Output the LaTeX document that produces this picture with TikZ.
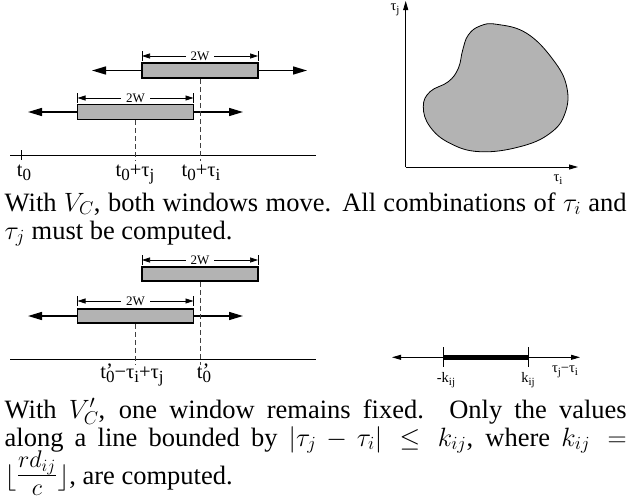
\RequirePackage{fix-cm}
\documentclass[tikz,border=0pt]{standalone}
\usepackage{graphicx}
\usepackage{fontspec}
\setmainfont{Liberation Serif}
\usetikzlibrary{arrows.meta}
\definecolor{winfill}{HTML}{B3B3B3}
\newcommand\lsub[1]{\raisebox{-4.5pt}{\fontsize{17}{17}\selectfont #1}}
\newcommand\ssub[1]{\raisebox{-3.5pt}{\fontsize{11}{11}\selectfont #1}}
\newcommand\tpr{t\rlap{\raisebox{1pt}{’}}\lsub{0}}
\begin{document}
\begin{tikzpicture}[x=1pt,y=-1pt,
  win/.style={draw, line width=1.5pt, fill=winfill, minimum width=116pt, minimum height=15pt, inner sep=0pt},
  mv/.style={line width=1.5pt, -{Triangle[length=14pt,width=8pt]}},
  dimln/.style={line width=0.7pt, {Triangle[length=8pt,width=5pt]}-{Triangle[length=8pt,width=5pt]}},
  dimbar/.style={line width=0.7pt},
  dashln/.style={dash pattern=on 5pt off 3pt, line width=0.8pt, draw=black!75},
  axis/.style={line width=0.8pt},
  thinarr/.style={line width=0.8pt, -{Triangle[length=9pt,width=5pt]}},
  lab/.style={font=\fontsize{20.5}{22}\selectfont, inner sep=0pt, anchor=base},
  slab/.style={font=\fontsize{14.5}{15}\selectfont, inner sep=0pt, anchor=base},
  dimlab/.style={font=\fontsize{13}{13}\selectfont, fill=white, inner xsep=5pt, inner ysep=1pt},
  captxt/.style={font=\fontsize{26.5}{28}\selectfont, inner sep=0pt, anchor=base west}]
\useasboundingbox (0,0) rectangle (631,501);

% ---------- diagram 1 ----------
\node[win] (A1) at (200,70.5) {};
\node[win] (B1) at (135.5,112) {};
\coordinate (A1l) at (92,70.5);  \coordinate (A1r) at (307,70.5);
\coordinate (B1l) at (28,112);   \coordinate (B1r) at (243,112);
\draw[mv] (A1.west) -- (A1l);
\draw[mv] (A1.east) -- (A1r);
\draw[mv] (B1.west) -- (B1l);
\draw[mv] (B1.east) -- (B1r);
\coordinate (A1dl) at (142,56); \coordinate (A1dr) at (258,56);
\draw[dimln] (A1dl) -- node[dimlab] (A1w) {2W} (A1dr);
\draw[dimbar] (142,51) -- (142,61);
\draw[dimbar] (258,51) -- (258,61);
\coordinate (B1dl) at (77.5,98); \coordinate (B1dr) at (193.5,98);
\draw[dimln] (B1dl) -- node[dimlab] (B1w) {2W} (B1dr);
\draw[dimbar] (77.5,93) -- (77.5,103);
\draw[dimbar] (193.5,93) -- (193.5,103);
\coordinate (X1a) at (10,155); \coordinate (X1b) at (316,155);
\draw[axis] (X1a) -- (X1b);
\draw[axis] (21,150) -- (21,160);
\coordinate (A1t) at (200,161); \coordinate (B1t) at (135.5,161);
\draw[dashln] (A1.south) -- (A1t);
\draw[dashln] (B1.south) -- (B1t);
\node[lab] (L1) at (24,176) {t\lsub{0}};
\node[lab] (L2) at (135,176) {t\lsub{0}+τ\lsub{j}};
\node[lab] (L3) at (201,176) {t\lsub{0}+τ\lsub{i}};

% ---------- plot ----------
\coordinate (O) at (405.7,167);
\coordinate (Yt) at (405.7,1);
\coordinate (Xr) at (578,167);
\draw[thinarr] (O) -- (Yt);
\draw[thinarr] (O) -- (Xr);
\node[slab] (tj) at (395,10) {τ\ssub{j}};
\node[slab] (ti) at (558,181) {τ\ssub{i}};
\draw[line width=0.8pt, fill=winfill] plot[smooth cycle, tension=0.7] coordinates {
 (496.7,24.3) (526.7,33.3) (553.3,60) (566.7,86.7) (565,113.3) (550,133.3)
 (520,146.7) (480,151.7) (450,143.3) (430,126.7) (423.3,106.7) (430,91.7)
 (448.3,81.7) (458.3,68.3) (462.7,50) (468.3,35) (480,26)};

% ---------- caption 1 ----------
\node[captxt] (c1) at (4.5,211) {\hbox to 622pt{With $V_C$, both windows move. All combinations of $\tau_i$ and}};
\node[captxt] (c2) at (4.5,239) {$\tau_j$ must be computed.};

% ---------- diagram 2 ----------
\node[win, minimum height=14pt] (A2) at (200,274) {};
\node[win, minimum height=14pt] (B2) at (135.5,316) {};
\coordinate (B2l) at (28,316);   \coordinate (B2r) at (243,316);
\draw[mv] (B2.west) -- (B2l);
\draw[mv] (B2.east) -- (B2r);
\coordinate (A2dl) at (142,260); \coordinate (A2dr) at (258,260);
\draw[dimln] (A2dl) -- node[dimlab] (A2w) {2W} (A2dr);
\draw[dimbar] (142,255) -- (142,265);
\draw[dimbar] (258,255) -- (258,265);
\coordinate (B2dl) at (77.5,301); \coordinate (B2dr) at (193.5,301);
\draw[dimln] (B2dl) -- node[dimlab] (B2w) {2W} (B2dr);
\draw[dimbar] (77.5,296) -- (77.5,306);
\draw[dimbar] (193.5,296) -- (193.5,306);
\coordinate (X2a) at (10,359); \coordinate (X2b) at (316,359);
\draw[axis] (X2a) -- (X2b);
\coordinate (A2t) at (200,365); \coordinate (B2t) at (135.5,365);
\draw[dashln] (A2.south) -- (A2t);
\draw[dashln] (B2.south) -- (B2t);
\node[lab] (L4) at (132,378) {\tpr−τ\lsub{i}+τ\lsub{j}};
\node[lab] (L5) at (204,378) {\tpr};

% ---------- k line ----------
\coordinate (K1) at (443,357.3); \coordinate (K2) at (528,357.3);
\coordinate (KL) at (392,357.3); \coordinate (KR) at (580,357.3);
\draw[thinarr] (K1) -- (KL);
\draw[thinarr] (K2) -- (KR);
\draw[line width=4.5pt] (K1) -- (K2);
\draw[line width=0.6pt] (443,347) -- (443,367);
\draw[line width=0.6pt] (528,347) -- (528,367);
\node[slab] (k1) at (446,382) {-k\ssub{ij}};
\node[slab] (k2) at (528,382) {k\ssub{ij}};
\node[slab] (k3) at (565,372) {τ\ssub{j}−τ\ssub{i}};

% ---------- caption 2 ----------
\node[captxt] (c3) at (4.5,418) {\hbox to 622pt{With $V'_C$, one window remains fixed. Only the values}};
\node[captxt] (c4) at (4.5,446) {\hbox to 622pt{along a line bounded by $|\tau_j-\tau_i|\le k_{ij}$, where $k_{ij}=$}};
\node[captxt] (c5) at (4.5,484) {$\bigl\lfloor\raisebox{0pt}{\scalebox{1.3}{$\frac{rd_{ij}}{c}$}}\bigr\rfloor$, are computed.};
\end{tikzpicture}
\end{document}
